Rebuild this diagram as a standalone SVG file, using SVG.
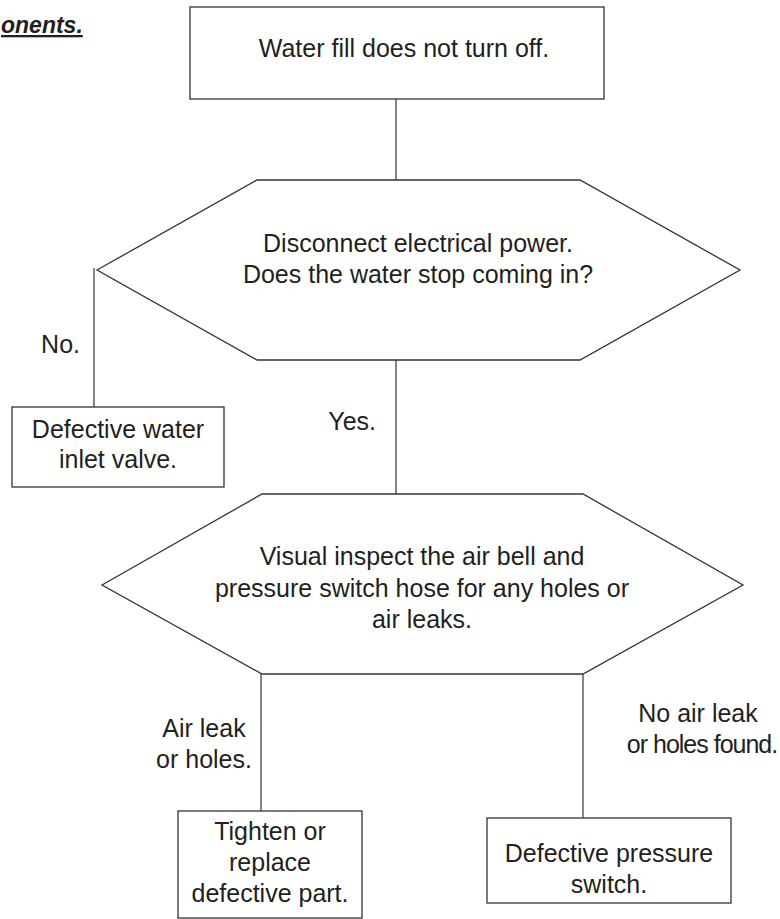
<svg xmlns="http://www.w3.org/2000/svg" width="780" height="919" viewBox="0 0 780 919">
<style>
.s{fill:#fff;stroke:#333;stroke-width:1.3}
.c{fill:none;stroke:#444;stroke-width:1.3}
text{font-family:"Liberation Sans",Arial,sans-serif;font-size:25px;fill:#231f20}
.m{text-anchor:middle}
.e{text-anchor:end}
.t{letter-spacing:-1px}
.h{font-weight:bold;font-style:italic;font-size:23px;text-decoration:underline}
</style>
<rect width="780" height="919" fill="#fff"/>
<text class="h" x="1" y="33">onents.</text>
<g id="connectors">
<line class="c" x1="396" y1="99" x2="396" y2="180"/>
<line class="c" x1="396" y1="360" x2="396" y2="494"/>
<line class="c" x1="94" y1="268" x2="94" y2="407"/>
<line class="c" x1="261" y1="674" x2="261" y2="811"/>
<line class="c" x1="583" y1="674" x2="583" y2="818"/>
<text class="e" x="80" y="353">No.</text>
<text class="e" x="376" y="430">Yes.</text>
<text class="m" x="204" y="737">Air leak</text>
<text class="m" x="204" y="768">or holes.</text>
<text class="m" x="698" y="722">No air leak</text>
<text class="m t" x="702" y="753">or holes found.</text>
</g>
<g id="start">
<rect class="s" x="190" y="7" width="414" height="92"/>
<text class="m" x="404" y="57">Water fill does not turn off.</text>
</g>
<g id="decision1">
<polygon class="s" points="97,270 257,180 580,180 740,270 580,360 257,360"/>
<text class="m" x="418" y="252">Disconnect electrical power.</text>
<text class="m" x="418" y="283">Does the water stop coming in?</text>
</g>
<g id="valve">
<rect class="s" x="12" y="407" width="212" height="80"/>
<text class="m" x="118" y="438">Defective water</text>
<text class="m" x="118" y="468">inlet valve.</text>
</g>
<g id="decision2">
<polygon class="s" points="102,585 262,494 583,494 743,585 583,674 262,674"/>
<text class="m" x="422" y="565">Visual inspect the air bell and</text>
<text class="m" x="422" y="597">pressure switch hose for any holes or</text>
<text class="m" x="422" y="628">air leaks.</text>
</g>
<g id="tighten">
<rect class="s" x="178" y="811" width="184" height="107"/>
<text class="m" x="270" y="840">Tighten or</text>
<text class="m" x="270" y="871">replace</text>
<text class="m" x="270" y="902">defective part.</text>
</g>
<g id="pressure">
<rect class="s" x="487" y="818" width="244" height="85"/>
<text class="m" x="609" y="862">Defective pressure</text>
<text class="m" x="609" y="893">switch.</text>
</g>
</svg>
